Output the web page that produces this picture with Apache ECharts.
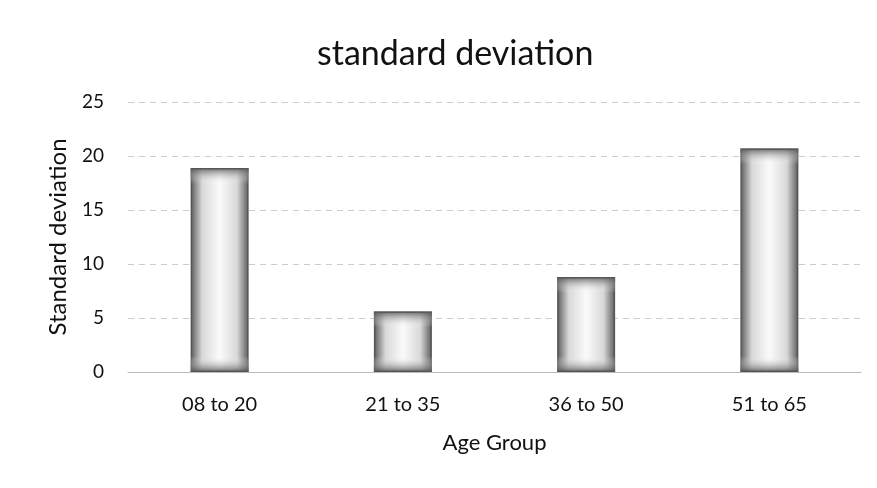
<!DOCTYPE html>
<html><head><meta charset="utf-8">
<script src="https://cdn.jsdelivr.net/npm/echarts@6/dist/echarts.min.js"></script>
<style>html,body{margin:0;padding:0;background:#fff}#c{width:877px;height:488px}</style>
</head><body><div id="c"></div>
<script>
const categories = ['08 to 20', '21 to 35', '36 to 50', '51 to 65'];
const values = [18.9, 5.6, 8.8, 20.7];
const yTicks = [0, 5, 10, 15, 20, 25];

const chart = echarts.init(document.getElementById('c'));
const font = 'Lato, "Open Sans", sans-serif';
const pxPerUnit = 270 / 25;
const overlay = values.map(v => {
  const f = Math.min(0.45, 16 / (v * pxPerUnit));
  return {
    value: v,
    itemStyle: {
      color: new echarts.graphic.LinearGradient(0, 0, 0, 1, [
        {offset: 0, color: 'rgba(80,80,80,0.85)'},
        {offset: f, color: 'rgba(255,255,255,0)'},
        {offset: 1 - f, color: 'rgba(255,255,255,0)'},
        {offset: 1, color: 'rgba(80,80,80,0.85)'}
      ])
    }
  };
});
chart.setOption({
  backgroundColor: '#fff',
  animation: false,
  title: {
    text: 'standard deviation', left: 312, top: 32,
    textStyle: {fontFamily: font, fontSize: 34, fontWeight: 'normal', color: '#111'}
  },
  grid: {left: 128, right: 16, top: 102, bottom: 116},
  xAxis: {
    type: 'category', data: categories,
    name: 'Age Group', nameLocation: 'middle', nameGap: 60,
    nameTextStyle: {fontFamily: font, fontSize: 22, color: '#111'},
    axisLine: {lineStyle: {color: '#bbb', width: 1}},
    axisTick: {show: false},
    axisLabel: {fontFamily: font, fontSize: 20, color: '#111', margin: 23}
  },
  yAxis: {
    type: 'value', min: 0, max: 25, interval: 5,
    name: 'Standard deviation', nameLocation: 'middle', nameGap: 58,
    nameTextStyle: {fontFamily: font, fontSize: 24, color: '#111'},
    axisLine: {show: false}, axisTick: {show: false},
    axisLabel: {fontFamily: font, fontSize: 19, color: '#111', margin: 24,
      formatter: v => yTicks.includes(v) ? String(v) : ''},
    splitLine: {lineStyle: {color: '#ccc', type: [6, 5], width: 1}}
  },
  series: [{
    type: 'bar', data: values, barWidth: 58,
    itemStyle: {
      color: new echarts.graphic.LinearGradient(0, 0, 1, 0, [
        {offset: 0, color: '#5a5a5a'},
        {offset: 0.2, color: '#d8d8d8'},
        {offset: 0.5, color: '#fbfbfb'},
        {offset: 0.8, color: '#d8d8d8'},
        {offset: 1, color: '#5a5a5a'}
      ]),
      borderColor: '#555', borderWidth: 1.5
    }
  }, {
    type: 'bar', data: overlay, barWidth: 58, barGap: '-100%', silent: true
  }]
});
</script></body></html>
